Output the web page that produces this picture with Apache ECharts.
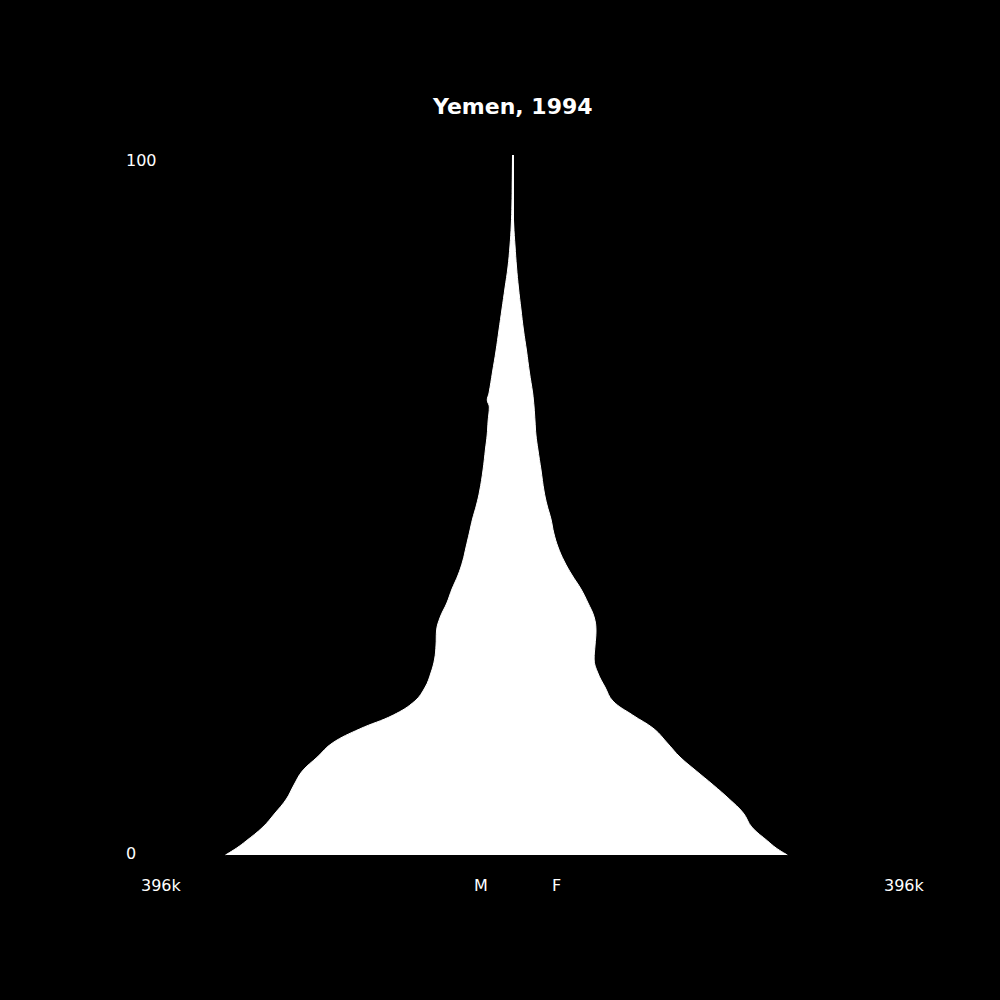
<!DOCTYPE html>
<html>
<head>
<meta charset="utf-8">
<script src="https://cdn.jsdelivr.net/npm/echarts@6/dist/echarts.min.js"></script>
<style>
  html, body { margin: 0; padding: 0; background: #000; }
  #chart { width: 1000px; height: 1000px; }
</style>
</head>
<body>
<div id="chart"></div>
<script>
// Age categories 0..100
var ageCategories = [];
for (var a = 0; a <= 100; a++) ageCategories.push(String(a));

// Ages at which the outline was read
var sampleAges = [0, 1, 2, 4, 6, 8, 10, 12, 14, 16, 18, 20, 22, 24, 26, 28, 30, 32, 34, 36, 38, 40,
                  42, 44, 46, 48, 50, 52, 55, 58, 60, 62, 64, 65, 66, 69, 72, 75, 78, 81, 84, 87,
                  90, 93, 96, 100];

// Male population (persons)
var maleValues = [306000, 294000, 284000, 266000, 253000, 241000, 233000, 224000, 208000, 192000,
                  163000, 127000, 104000, 93000, 87000, 83000, 81500, 81000, 77000, 70000, 64500,
                  58000, 53000, 49500, 46000, 42600, 38400, 35000, 31400, 28800, 27000, 26000,
                  24700, 26900, 25000, 21300, 17600, 14400, 11200, 8000, 4800, 2700, 1300, 600, 300, 0];

// Female population (persons)
var femaleValues = [293000, 281000, 272000, 255000, 246000, 231000, 214000, 196000, 178500, 165000,
                    151000, 128000, 107000, 98600, 91000, 87000, 88000, 89000, 87000, 80500, 73000,
                    63400, 55000, 48500, 44000, 41000, 36800, 33600, 30400, 27000, 25000, 24000,
                    23000, 22300, 21500, 18000, 15000, 11700, 9000, 6400, 4300, 2700, 1300, 600, 300, 0];

var xTickValues = [-396000, 396000];
var yTickLabels = ['0', '100'];
var sexLabels = ['M', 'F'];
var titleText = 'Yemen, 1994';

function pairs(values, sign) {
  return values.map(function (v, i) { return [sign * v, sampleAges[i]]; });
}

var chart = echarts.init(document.getElementById('chart'), null, { renderer: 'svg' });
var FONT = 'DejaVu Sans';

chart.setOption({
  backgroundColor: '#000000',
  animation: false,
  title: {
    text: titleText,
    left: 428,
    top: 90,
    textStyle: { color: '#ffffff', fontFamily: FONT, fontWeight: 'bold', fontSize: 22 }
  },
  grid: { left: 141, right: 116, top: 155, bottom: 145, containLabel: false },
  xAxis: {
    type: 'value',
    min: -396000,
    max: 396000,
    splitLine: { show: false },
    axisLine: { show: false },
    axisTick: { show: false },
    axisLabel: {
      customValues: xTickValues,
      color: '#ffffff',
      fontFamily: FONT,
      fontSize: 16,
      align: 'left',
      margin: 22,
      formatter: function (v) { return Math.round(Math.abs(v) / 1000) + 'k'; }
    }
  },
  yAxis: {
    type: 'category',
    data: ageCategories,
    boundaryGap: false,
    splitLine: { show: false },
    axisLine: { show: false },
    axisTick: { show: false },
    axisLabel: {
      color: '#ffffff',
      fontFamily: FONT,
      fontSize: 16,
      align: 'left',
      margin: 15,
      interval: function (idx, val) { return yTickLabels.indexOf(val) >= 0; },
      formatter: function (val) { return val === '100' ? '{hi|' + val + '}' : '{lo|' + val + '}'; },
      rich: {
        hi: { color: '#ffffff', fontFamily: FONT, fontSize: 16, padding: [10, 0, 0, 0] },
        lo: { color: '#ffffff', fontFamily: FONT, fontSize: 16, padding: [0, 0, 4, 0] }
      }
    }
  },
  graphic: [
    { type: 'text', left: 474, top: 877, style: { text: sexLabels[0], fill: '#ffffff', font: '16px "DejaVu Sans"' } },
    { type: 'text', left: 552, top: 877, style: { text: sexLabels[1], fill: '#ffffff', font: '16px "DejaVu Sans"' } }
  ],
  series: [
    {
      name: 'M',
      type: 'line',
      data: pairs(maleValues, -1),
      smooth: 0.4,
      symbol: 'none',
      lineStyle: { color: '#ffffff', width: 1 },
      areaStyle: { color: '#ffffff', opacity: 1 },
      markLine: {
        silent: true,
        symbol: ['none', 'none'],
        label: { show: false },
        lineStyle: { color: '#ffffff', width: 2, type: 'solid' },
        data: [{ xAxis: 0 }]
      }
    },
    {
      name: 'F',
      type: 'line',
      data: pairs(femaleValues, 1),
      smooth: 0.4,
      symbol: 'none',
      lineStyle: { color: '#ffffff', width: 1 },
      areaStyle: { color: '#ffffff', opacity: 1 }
    }
  ]
});
</script>
</body>
</html>
